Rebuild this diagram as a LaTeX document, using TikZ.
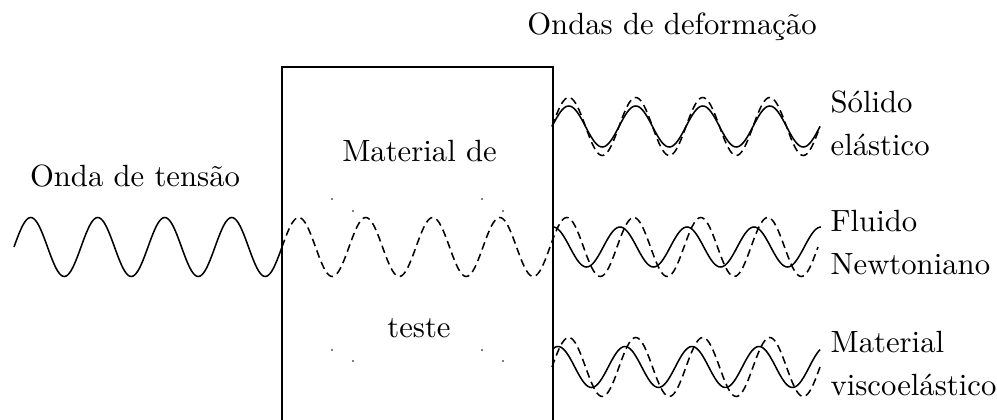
\documentclass[tikz,border=0pt]{standalone}
\usetikzlibrary{positioning}

\begin{document}
\begin{tikzpicture}[x=0.3257pt, y=-0.3257pt,
  wave/.style={line width=0.5pt},
  strain/.style={wave, dash pattern=on 2.5pt off 1.5pt},
  txt/.style={inner sep=0pt, anchor=base},
  lbl/.style={inner sep=0pt, align=left, anchor=west}
]
\def\k{5.37313}
\useasboundingbox (0,0) rectangle (997,420);
\draw (282,420) -- (282,67) -- (553,67) -- (553,420);
\node[txt] (ondas)  at (672,35)    {Ondas de deformação};
\node[txt] (tensao) at (135,187)   {Onda de tensão};
\node[txt] (mat1)   at (419.5,162) {Material de};
\node[txt] (mat2)   at (419,338)   {teste};
\node[lbl] (solido) at (830,123) {Sólido\\[2pt]elástico};
\node[lbl] (fluido) at (830,243) {Fluido\\[2pt]Newtoniano};
\node[lbl] (visco)  at (830,364) {Material\\[2pt]viscoelástico};
\foreach \px/\py in {332/199, 353/211, 482/199, 503/211, 332/350, 353/361, 482/350, 503/361}
  \fill (\px,\py) circle (0.3pt);
\draw[wave]   plot[domain=14:282,  samples=161] (\x, {247-29.5*sin(\k*(\x-14))});
\draw[strain] plot[domain=282:818, samples=321] (\x, {247-29.5*sin(\k*(\x-14))});
\draw[wave]   plot[domain=553:821, samples=161] (\x, {247-20*cos(\k*(\x-553))});
\draw[wave]   plot[domain=552:820, samples=161] (\x, {126.5-20.5*sin(\k*(\x-552))});
\draw[strain] plot[domain=552:820, samples=161] (\x, {126.5-29*sin(\k*(\x-552))});
\draw[wave]   plot[domain=553:820, samples=161] (\x, {367-20.5*cos(\k*(\x-558))});
\draw[strain] plot[domain=552:820, samples=161] (\x, {367-29.5*sin(\k*(\x-552))});
\end{tikzpicture}
\end{document}
